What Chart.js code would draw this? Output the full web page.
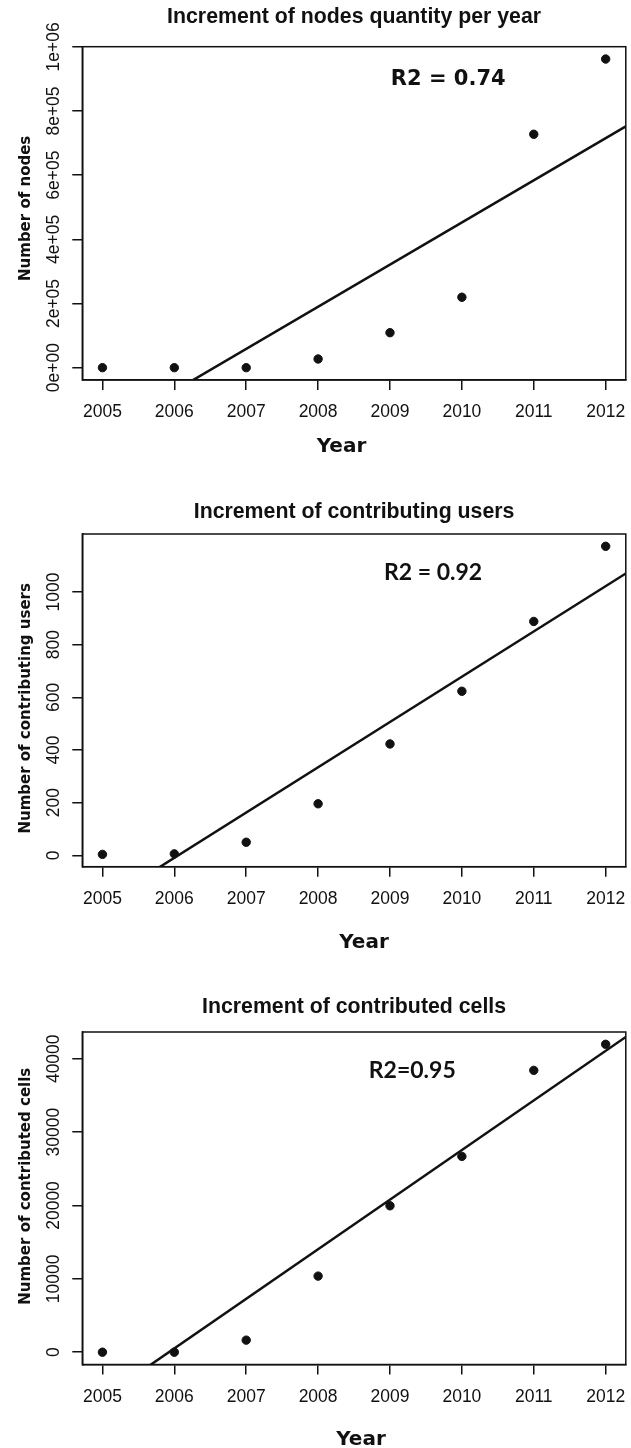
<!DOCTYPE html>
<html>
<head>
<meta charset="utf-8">
<script src="https://cdn.jsdelivr.net/npm/chart.js@4.4.1/dist/chart.umd.min.js"></script>
<style>
  body { margin: 0; background: #fff; }
  .panel { position: absolute; left: 0; width: 631px; }
  canvas { display: block; }
</style>
</head>
<body>
<div class="panel" style="top:0px"><canvas id="nodes-chart" width="631" height="470"></canvas></div>
<div class="panel" style="top:470px"><canvas id="users-chart" width="631" height="490"></canvas></div>
<div class="panel" style="top:960px"><canvas id="cells-chart" width="631" height="488"></canvas></div>
<script>
// Values
const years = [2005, 2006, 2007, 2008, 2009, 2010, 2011, 2012];
const nodes = [0, 0, 0, 27000, 109000, 219500, 727500, 962000];
const users = [4, 6, 50, 196, 423, 623, 888, 1173];
const cells = [0, 0, 1640, 10370, 19960, 26690, 38420, 41970];

// Fitted trend lines, read at the left and right edge of each plot
const fitYears = [2004.72, 2012.28];
const fitNodes = [-241000, 752000];
const fitUsers = [-229, 1070];
const fitCells = [-8140, 42970];

// Y axis ticks
const nodeTicks = [0, 200000, 400000, 600000, 800000, 1000000];
const nodeTickLabels = ["0e+00", "2e+05", "4e+05", "6e+05", "8e+05", "1e+06"];
const userTicks = [0, 200, 400, 600, 800, 1000];
const userTickLabels = ["0", "200", "400", "600", "800", "1000"];
const cellTicks = [0, 10000, 20000, 30000, 40000];
const cellTickLabels = ["0", "10000", "20000", "30000", "40000"];

const ink = "#111";

// R style extended range (4% each side)
function rRange(values) {
  const lo = Math.min(...values);
  const hi = Math.max(...values);
  const ext = (hi - lo) * 0.04;
  return [lo - ext, hi + ext];
}

// Draws the box, titles, rotated y labels and the R2 note like base R graphics
const rFrame = {
  id: "rFrame",
  afterDraw(chart, args, opts) {
    const ctx = chart.ctx;
    const area = chart.chartArea;
    const yScale = chart.scales.y;
    const xScale = chart.scales.x;
    ctx.save();

    ctx.strokeStyle = ink;
    ctx.lineWidth = 1.5;
    ctx.strokeRect(area.left, area.top, area.right - area.left, area.bottom - area.top);

    ctx.fillStyle = ink;

    // main title
    ctx.font = "bold 21.3px 'Liberation Sans'";
    ctx.textAlign = "center";
    ctx.textBaseline = "alphabetic";
    ctx.fillText(opts.title, (area.left + area.right) / 2, opts.titleY);

    // x axis title
    ctx.font = "bold 20px 'DejaVu Sans'";
    ctx.fillText("Year", opts.xTitleX, area.bottom + opts.xTitleGap);

    // y tick labels, parallel to the axis
    ctx.font = "17.5px 'Liberation Sans'";
    yScale.ticks.forEach((t, i) => {
      const py = yScale.getPixelForValue(t.value);
      ctx.save();
      ctx.translate(59, py);
      ctx.rotate(-Math.PI / 2);
      ctx.fillText(opts.tickLabels[i], 0, 0);
      ctx.restore();
    });

    // y axis title
    ctx.font = "bold 15px 'DejaVu Sans'";
    ctx.save();
    ctx.translate(30, (area.top + area.bottom) / 2 + opts.yTitleShift);
    ctx.rotate(-Math.PI / 2);
    ctx.fillText(opts.yTitle, 0, 0);
    ctx.restore();

    // R2 note, placed in data coordinates
    ctx.font = opts.noteFont;
    ctx.textBaseline = "middle";
    ctx.fillText(opts.note, xScale.getPixelForValue(opts.noteAt[0]), yScale.getPixelForValue(opts.noteAt[1]));

    ctx.restore();
  },
};

function createPanel(canvasId, values, fit, tickValues, frame, pad) {
  const ctx = document.getElementById(canvasId).getContext("2d");
  const [yMin, yMax] = rRange(values);

  return new Chart(ctx, {
    type: "scatter",
    data: {
      datasets: [
        {
          data: years.map((y, i) => ({ x: y, y: values[i] })),
          backgroundColor: ink,
          borderColor: ink,
          pointRadius: 4.2,
          pointHoverRadius: 4.2,
        },
        {
          data: fitYears.map((y, i) => ({ x: y, y: fit[i] })),
          showLine: true,
          borderColor: ink,
          borderWidth: 2.5,
          pointRadius: 0,
          clip: 0,
        },
      ],
    },
    options: {
      responsive: false,
      animation: false,
      layout: { padding: pad },
      plugins: {
        legend: { display: false },
        tooltip: { enabled: false },
        title: { display: false },
        rFrame: frame,
      },
      scales: {
        x: {
          type: "linear",
          min: fitYears[0],
          max: fitYears[1],
          afterBuildTicks: (scale) => {
            scale.ticks = years.map((v) => ({ value: v }));
          },
          afterFit: (scale) => {
            scale.height = 60;
            scale.paddingLeft = 0;
            scale.paddingRight = 0;
          },
          ticks: {
            color: ink,
            padding: 12,
            maxRotation: 0,
            font: { family: "'Liberation Sans'", size: 17.5 },
            callback: (v) => String(v),
          },
          grid: { drawOnChartArea: false, drawTicks: true, tickLength: 10, color: ink, lineWidth: 1.5 },
          border: { display: true, color: ink, width: 1.5 },
        },
        y: {
          type: "linear",
          min: yMin,
          max: yMax,
          afterBuildTicks: (scale) => {
            scale.ticks = tickValues.map((v) => ({ value: v }));
          },
          afterFit: (scale) => {
            scale.width = 82.3;
            scale.paddingTop = 0;
            scale.paddingBottom = 0;
          },
          ticks: { display: false },
          grid: { drawOnChartArea: false, drawTicks: true, tickLength: 10, color: ink, lineWidth: 1.5 },
          border: { display: true, color: ink, width: 1.5 },
        },
      },
    },
    plugins: [rFrame],
  });
}

createPanel("nodes-chart", nodes, fitNodes, nodeTicks, {
  title: "Increment of nodes quantity per year",
  titleY: 22.7,
  xTitleX: 341.5,
  xTitleGap: 72,
  yTitle: "Number of nodes",
  yTitleShift: -5,
  tickLabels: nodeTickLabels,
  note: "R2 = 0.74",
  noteFont: "bold 21px 'DejaVu Sans'",
  noteAt: [2009.81, 896800],
}, { top: 46.7, right: 4.3, bottom: 30, left: 0 });

createPanel("users-chart", users, fitUsers, userTicks, {
  title: "Increment of contributing users",
  titleY: 48,
  xTitleX: 364,
  xTitleGap: 81,
  yTitle: "Number of contributing users",
  yTitleShift: 8,
  tickLabels: userTickLabels,
  note: "R2 = 0.92",
  noteFont: "bold 23px Lato",
  noteAt: [2009.6, 1075],
}, { top: 64, right: 4.3, bottom: 33.3, left: 0 });

createPanel("cells-chart", cells, fitCells, cellTicks, {
  title: "Increment of contributed cells",
  titleY: 53,
  xTitleX: 361,
  xTitleGap: 80,
  yTitle: "Number of contributed cells",
  yTitleShift: -12,
  tickLabels: cellTickLabels,
  note: "R2=0.95",
  noteFont: "bold 23px Lato",
  noteAt: [2009.31, 38420],
}, { top: 72, right: 4.3, bottom: 23.5, left: 0 });
</script>
</body>
</html>
